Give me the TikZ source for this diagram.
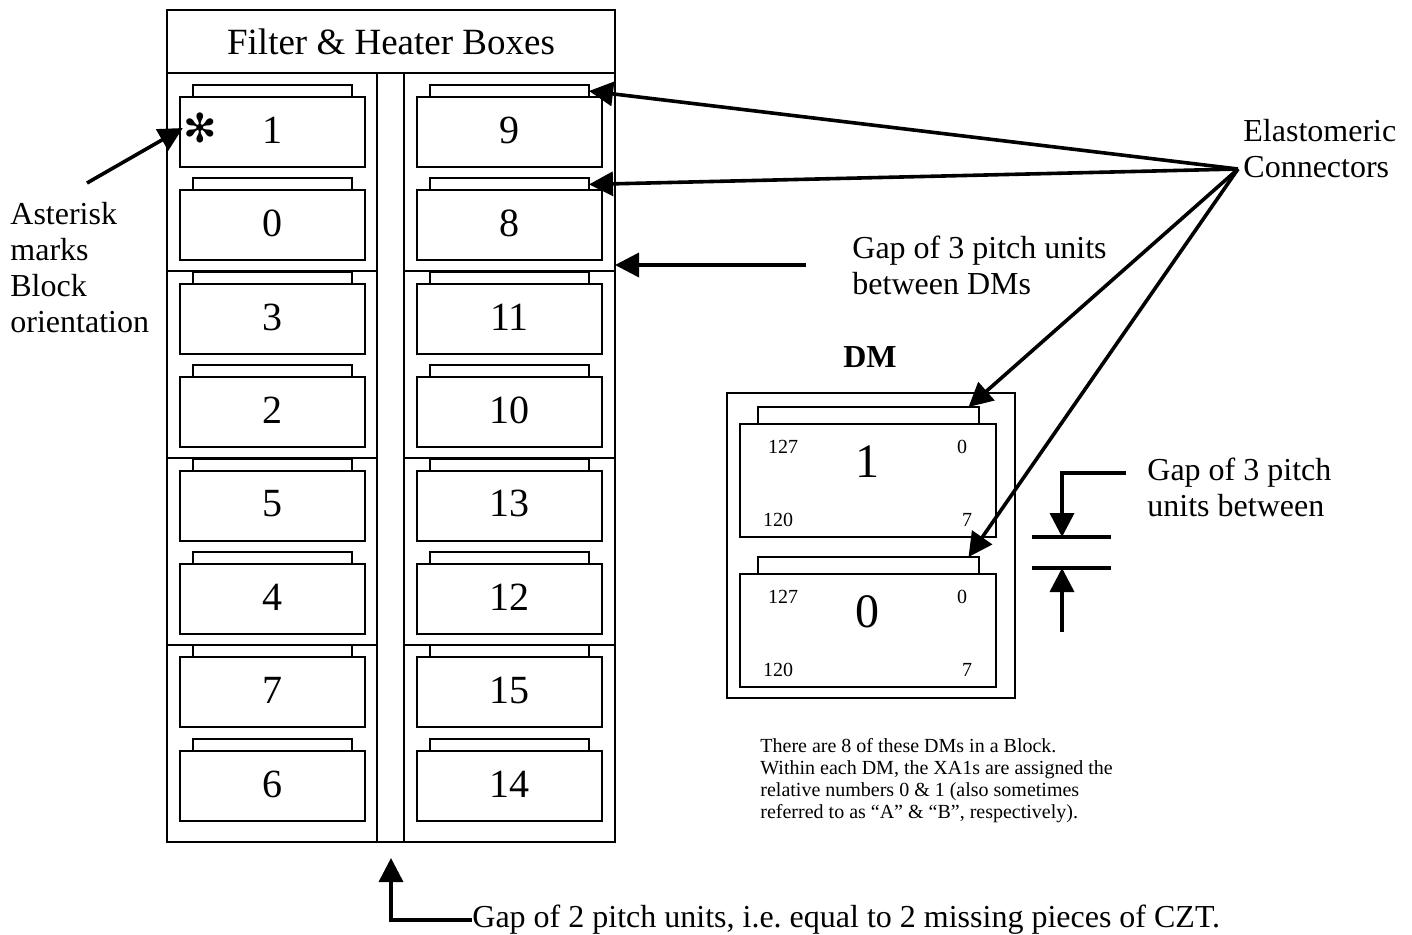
\documentclass[tikz,border=0pt]{standalone}
\usepackage{fontspec}
\setmainfont{Liberation Serif}
\newfontfamily\astfont{DejaVu Sans}
\usetikzlibrary{arrows.meta, positioning, calc}
\frenchspacing

\begin{document}
\begin{tikzpicture}[
    x=0.5pt, y=-0.5pt,
    frame/.style={line width=1pt},
    box/.style={
        rectangle,
        draw,
        line width=1pt,
        outer sep=0pt,
        inner sep=0pt,
        minimum width=92.5pt,
        minimum height=35pt,
        text depth=0.2em,
        font=\fontsize{20}{24}\selectfont
    },
    tab/.style={
        rectangle,
        draw,
        line width=1pt,
        outer sep=0pt,
        inner sep=0pt,
        minimum width=79.5pt,
        minimum height=6pt
    },
    note/.style={align=left, inner sep=0pt, font=\fontsize{16}{18}\selectfont},
    corner/.style={inner sep=0pt, font=\fontsize{10}{12}\selectfont},
    arrow/.style={
        -{Triangle[length=12pt,width=12pt]},
        line width=1.8pt
    }
]
\useasboundingbox (0,0) rectangle (1412,934);

% Filter & heater block
\node[rectangle, draw, line width=1pt, outer sep=0pt, minimum width=224pt, minimum height=416pt] (block) at (391,426) {};
\draw[frame] (167,73) -- (615,73);
\node[font=\fontsize{18.5}{22}\selectfont] (title) at (391,42) {Filter \& Heater Boxes};
\draw[frame] (377,73) -- (377,842) (404,73) -- (404,842);
\foreach \y in {271, 457.8, 644.6}
    \draw[frame] (167,\y) -- (377,\y) (404,\y) -- (615,\y);

% XA1 modules, left and right columns
\foreach \n [count=\i from 0] in {1,0,3,2,5,4,7,6} {
    \node[box] (m\n) at (272.5, {132+93.4*\i}) {\n};
    \node[tab, above=0pt of m\n] (t\n) {};
}
\foreach \n [count=\i from 0] in {9,8,11,10,13,12,15,14} {
    \node[box] (m\n) at (509.5, {132+93.4*\i}) {\n};
    \node[tab, above=0pt of m\n] (t\n) {};
}

% Orientation mark
\node[inner sep=0pt, font=\astfont\fontsize{20}{20}\selectfont] (ast) at (200,128) {✻};
\node[note, anchor=north west] (astnote) at (10,202) {Asterisk\\marks\\Block\\orientation};
\coordinate (astfoot) at (87,183);
\draw[arrow] (astfoot) -- (ast.west);

% Gap between DMs
\node[note, anchor=north west] (gapdm) at (852,236) {Gap of 3 pitch units\\between DMs};
\coordinate (gapdmfoot) at (806,265);
\draw[arrow] (gapdmfoot) -- (block.east |- gapdmfoot);

% DM detail
\node[font=\bfseries\fontsize{16}{18}\selectfont] (dmtitle) at (870,357) {DM};
\node[rectangle, draw, line width=1pt, outer sep=0pt, minimum width=144pt, minimum height=152.5pt] (dm) at (871,545.5) {};
\node[box, minimum width=128pt, minimum height=56.5pt] (dma) at (868,480.5) {};
\node[tab, minimum width=110.5pt, minimum height=8.5pt, above=0pt of dma] (dta) {};
\node[box, minimum width=128pt, minimum height=56.5pt] (dmb) at (868,630.5) {};
\node[tab, minimum width=110.5pt, minimum height=8.5pt, above=0pt of dmb] (dtb) {};
\foreach \m/\d in {dma/1, dmb/0} {
    \node[font=\fontsize{24}{24}\selectfont] (\m-num) at ($(\m.center)+(-1,-19)$) {\d};
    \node[corner] (\m-tl) at ($(\m.north west)+(43,23)$) {127};
    \node[corner] (\m-tr) at ($(\m.north east)+(-34,23)$) {0};
    \node[corner] (\m-bl) at ($(\m.south west)+(38,-17)$) {120};
    \node[corner] (\m-br) at ($(\m.south east)+(-29,-17)$) {7};
}
\node[anchor=north west, align=left, inner sep=0pt, font=\fontsize{10}{11}\selectfont] (dmnote) at (760,738)
    {There are 8 of these DMs in a Block.\\Within each DM, the XA1s are assigned the\\relative numbers 0 \& 1 (also sometimes\\referred to as ``A'' \& ``B'', respectively).};

% Elastomeric connectors
\node[note, anchor=north west] (elast) at (1243,119) {Elastomeric\\Connectors};
\coordinate (hub) at (1238,169);
\draw[arrow] (hub) -- (t9.east);
\draw[arrow] (hub) -- (t8.east);
\draw[arrow] (hub) -- ([xshift=-5pt]dta.north east);
\draw[arrow] (hub) -- ([xshift=-5pt]dtb.north east);

% Gap of 3 pitch units between XA1s
\draw[line width=1.6pt] (1032,537) -- (1111,537) (1032,568) -- (1111,568);
\node[note, anchor=north west] (gap3) at (1147,458) {Gap of 3 pitch\\units between};
\coordinate (gapin) at (1126,473);
\coordinate (gaptop) at (1062,537);
\coordinate (gapbot) at (1062,568);
\coordinate (gapfoot) at (1062,632);
\draw[arrow] (gapin) -| (gaptop);
\draw[arrow] (gapfoot) -- (gapbot);

% Gap of 2 pitch units
\node[note, anchor=west] (czt) at (472,920) {Gap of 2 pitch units, i.e. equal to 2 missing pieces of CZT.};
\coordinate (gap2tip) at (391,858);
\draw[arrow] (czt.west) -| (gap2tip);

\end{tikzpicture}
\end{document}
